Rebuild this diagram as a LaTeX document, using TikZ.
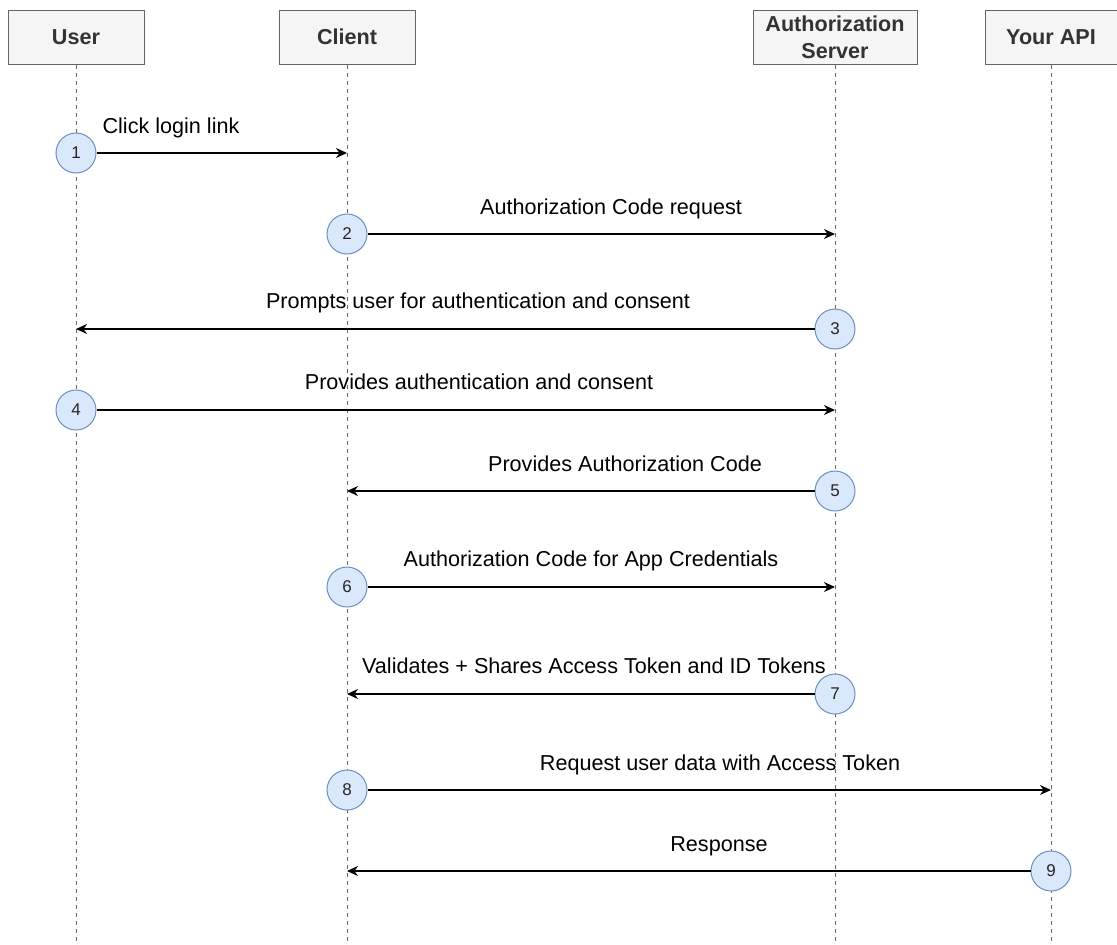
\documentclass[tikz,border=0pt]{standalone}
\usepackage{fontspec}
\setmainfont{Liberation Sans}
\usetikzlibrary{arrows.meta}
\definecolor{boxfill}{HTML}{F5F5F5}
\definecolor{boxline}{HTML}{666666}
\definecolor{boxtext}{HTML}{333333}
\definecolor{stepfill}{HTML}{DAE8FC}
\definecolor{stepline}{HTML}{6C8EBF}
\tikzset{
  actor/.style={draw=boxline, fill=boxfill, line width=1pt, minimum height=54pt,
    text=boxtext, font=\fontsize{21.6}{27}\selectfont\bfseries, align=center, inner sep=0pt},
  lifeline/.style={draw=boxline, line width=1pt, dash pattern=on 4pt off 4pt},
  stepnum/.style={circle, draw=stepline, fill=stepfill, line width=1pt, minimum size=40pt,
    inner sep=0pt, font=\fontsize{17}{17}\selectfont, text=black!85},
  msg/.style={draw=black, line width=1.3pt, -{Stealth[length=11pt,width=10pt,inset=3.5pt]}},
  msglabel/.style={font=\fontsize{21.6}{26}\selectfont, text=black, inner sep=0pt, anchor=base}
}
\begin{document}
\begin{tikzpicture}[x=1pt,y=-1pt]
\useasboundingbox (0,0) rectangle (1117,945);
% participants
\node[actor, minimum width=136pt] (user)   at (76,37)   {User};
\node[actor, minimum width=136pt] (client) at (347,37)  {Client};
\node[actor, minimum width=164pt] (auth)   at (835,37)  {Authorization\\Server};
\node[actor, minimum width=132pt] (api)    at (1051,37) {Your API};
% lifeline ends
\coordinate (userend)   at (76,945);
\coordinate (clientend) at (347,945);
\coordinate (authend)   at (835,945);
\coordinate (apiend)    at (1051,945);
\draw[lifeline] (user.south)   -- (userend);
\draw[lifeline] (client.south) -- (clientend);
\draw[lifeline] (auth.south)   -- (authend);
\draw[lifeline] (api.south)    -- (apiend);
% steps
\node[stepnum] (s1) at (76,153)   {1};
\node[stepnum] (s2) at (347,234)  {2};
\node[stepnum] (s3) at (835,329)  {3};
\node[stepnum] (s4) at (76,410)   {4};
\node[stepnum] (s5) at (835,491)  {5};
\node[stepnum] (s6) at (347,587)  {6};
\node[stepnum] (s7) at (835,694)  {7};
\node[stepnum] (s8) at (347,790)  {8};
\node[stepnum] (s9) at (1051,871) {9};
% arrow targets on the lifelines
\coordinate (t1) at (347,153);
\coordinate (t2) at (835,234);
\coordinate (t3) at (76,329);
\coordinate (t4) at (835,410);
\coordinate (t5) at (347,491);
\coordinate (t6) at (835,587);
\coordinate (t7) at (347,694);
\coordinate (t8) at (1051,790);
\coordinate (t9) at (347,871);
\draw[msg] (s1) -- (t1);
\draw[msg] (s2) -- (t2);
\draw[msg] (s3) -- (t3);
\draw[msg] (s4) -- (t4);
\draw[msg] (s5) -- (t5);
\draw[msg] (s6) -- (t6);
\draw[msg] (s7) -- (t7);
\draw[msg] (s8) -- (t8);
\draw[msg] (s9) -- (t9);
% message labels (baselines)
\node[msglabel] (l1) at (171,133) {Click login link};
\node[msglabel] (l2) at (611,214) {Authorization Code request};
\node[msglabel] (l3) at (478,308) {Prompts user for authentication and consent};
\node[msglabel] (l4) at (479,389) {Provides authentication and consent};
\node[msglabel] (l5) at (625,471) {Provides Authorization Code};
\node[msglabel] (l6) at (591,566) {Authorization Code for App Credentials};
\node[msglabel] (l7) at (594,673) {Validates + Shares Access Token and ID Tokens};
\node[msglabel] (l8) at (720,770) {Request user data with Access Token};
\node[msglabel] (l9) at (719,851) {Response};
\end{tikzpicture}
\end{document}
